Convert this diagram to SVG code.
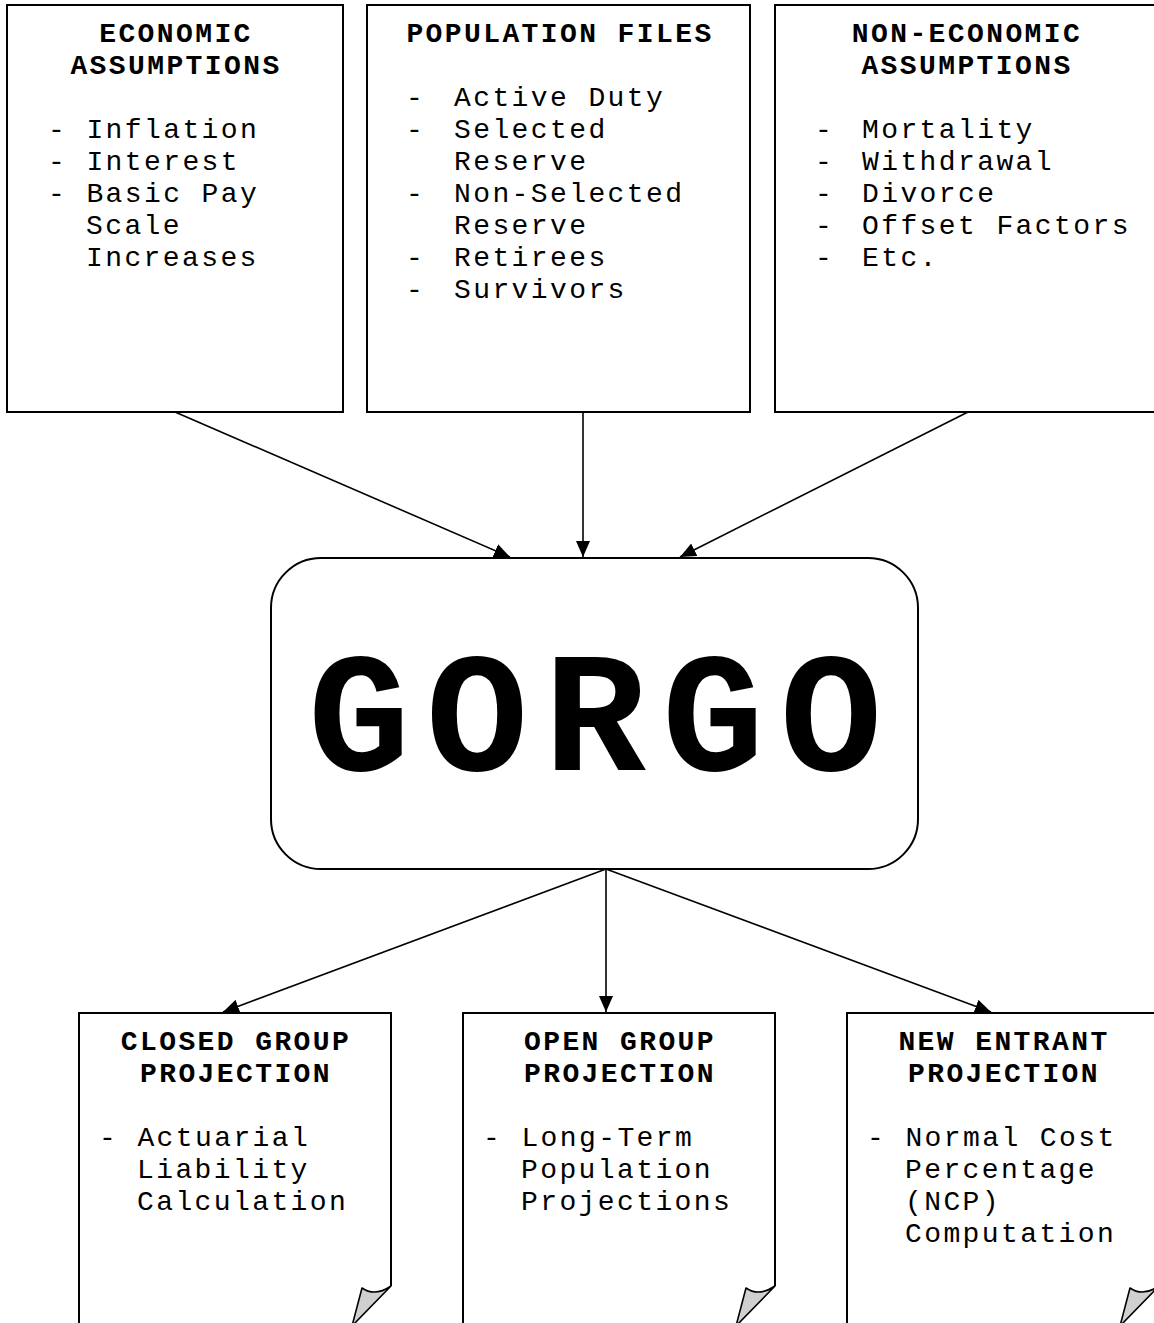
<svg xmlns="http://www.w3.org/2000/svg" width="1154" height="1323" viewBox="0 0 1154 1323">
<style>
.box{fill:#fff;stroke:#000;stroke-width:2}
.t{font-family:"Liberation Mono","Courier New",monospace;font-size:28px;letter-spacing:2.4px;fill:#000}
.h{font-weight:bold;text-anchor:middle}
.g{font-family:"Liberation Mono","Courier New",monospace;font-size:170px;letter-spacing:16px;font-weight:bold;text-anchor:middle;fill:#000}
.c{stroke:#000;stroke-width:1.6;fill:none}
.ear{fill:#d0d0d0;stroke:#000;stroke-width:1.6;stroke-linejoin:round}
</style>
<defs>
<marker id="ah" viewBox="0 0 16 14" refX="16" refY="7" markerWidth="16" markerHeight="14" markerUnits="userSpaceOnUse" orient="auto">
<path d="M0,0 L16,7 L0,14 Z" fill="#000"/>
</marker>
</defs>
<rect width="1154" height="1323" fill="#fff"/>
<g id="econ">
<rect class="box" x="7" y="5" width="336" height="407"/>
<text class="t h" x="176" y="42">ECONOMIC</text>
<text class="t h" x="176" y="74">ASSUMPTIONS</text>
<text class="t" x="48" y="138">- Inflation</text>
<text class="t" x="48" y="170">- Interest</text>
<text class="t" x="48" y="202">- Basic Pay</text>
<text class="t" x="86" y="234">Scale</text>
<text class="t" x="86" y="266">Increases</text>
</g>
<g id="pop">
<rect class="box" x="367" y="5" width="383" height="407"/>
<text class="t h" x="560" y="42">POPULATION FILES</text>
<text class="t" x="406" y="106">-</text><text class="t" x="454" y="106">Active Duty</text>
<text class="t" x="406" y="138">-</text><text class="t" x="454" y="138">Selected</text>
<text class="t" x="454" y="170">Reserve</text>
<text class="t" x="406" y="202">-</text><text class="t" x="454" y="202">Non-Selected</text>
<text class="t" x="454" y="234">Reserve</text>
<text class="t" x="406" y="266">-</text><text class="t" x="454" y="266">Retirees</text>
<text class="t" x="406" y="298">-</text><text class="t" x="454" y="298">Survivors</text>
</g>
<g id="nonecon">
<rect class="box" x="775" y="5" width="383" height="407"/>
<text class="t h" x="967" y="42">NON-ECONOMIC</text>
<text class="t h" x="967" y="74">ASSUMPTIONS</text>
<text class="t" x="815" y="138">-</text><text class="t" x="862" y="138">Mortality</text>
<text class="t" x="815" y="170">-</text><text class="t" x="862" y="170">Withdrawal</text>
<text class="t" x="815" y="202">-</text><text class="t" x="862" y="202">Divorce</text>
<text class="t" x="815" y="234">-</text><text class="t" x="862" y="234">Offset Factors</text>
<text class="t" x="815" y="266">-</text><text class="t" x="862" y="266">Etc.</text>
</g>
<g id="gorgo">
<rect class="box" x="271" y="558" width="647" height="311" rx="50" ry="50"/>
<text class="g" x="603" y="770">GORGO</text>
</g>
<g id="closed">
<path class="box" d="M79,1330 L79,1013 L391,1013 L391,1286"/>
<path class="ear" d="M391,1286 L352,1326 L362,1288 Q375,1297 391,1286 Z"/>
<text class="t h" x="236" y="1050">CLOSED GROUP</text>
<text class="t h" x="236" y="1082">PROJECTION</text>
<text class="t" x="99" y="1146">- Actuarial</text>
<text class="t" x="137" y="1178">Liability</text>
<text class="t" x="137" y="1210">Calculation</text>
</g>
<g id="open">
<path class="box" d="M463,1330 L463,1013 L775,1013 L775,1286"/>
<path class="ear" d="M775,1286 L736,1326 L746,1288 Q759,1297 775,1286 Z"/>
<text class="t h" x="620" y="1050">OPEN GROUP</text>
<text class="t h" x="620" y="1082">PROJECTION</text>
<text class="t" x="483" y="1146">- Long-Term</text>
<text class="t" x="521" y="1178">Population</text>
<text class="t" x="521" y="1210">Projections</text>
</g>
<g id="newentrant">
<path class="box" d="M847,1330 L847,1013 L1159,1013 L1159,1286"/>
<path class="ear" d="M1159,1286 L1120,1326 L1130,1288 Q1143,1297 1159,1286 Z"/>
<text class="t h" x="1004" y="1050">NEW ENTRANT</text>
<text class="t h" x="1004" y="1082">PROJECTION</text>
<text class="t" x="867" y="1146">- Normal Cost</text>
<text class="t" x="905" y="1178">Percentage</text>
<text class="t" x="905" y="1210">(NCP)</text>
<text class="t" x="905" y="1242">Computation</text>
</g>
<g id="connectors">
<line class="c" x1="175" y1="412" x2="510" y2="557" marker-end="url(#ah)"/>
<line class="c" x1="583" y1="412" x2="583" y2="557" marker-end="url(#ah)"/>
<line class="c" x1="968" y1="412" x2="680" y2="557" marker-end="url(#ah)"/>
<line class="c" x1="606" y1="869" x2="223" y2="1012" marker-end="url(#ah)"/>
<line class="c" x1="606" y1="869" x2="606" y2="1012" marker-end="url(#ah)"/>
<line class="c" x1="606" y1="869" x2="991" y2="1012" marker-end="url(#ah)"/>
</g>
</svg>
